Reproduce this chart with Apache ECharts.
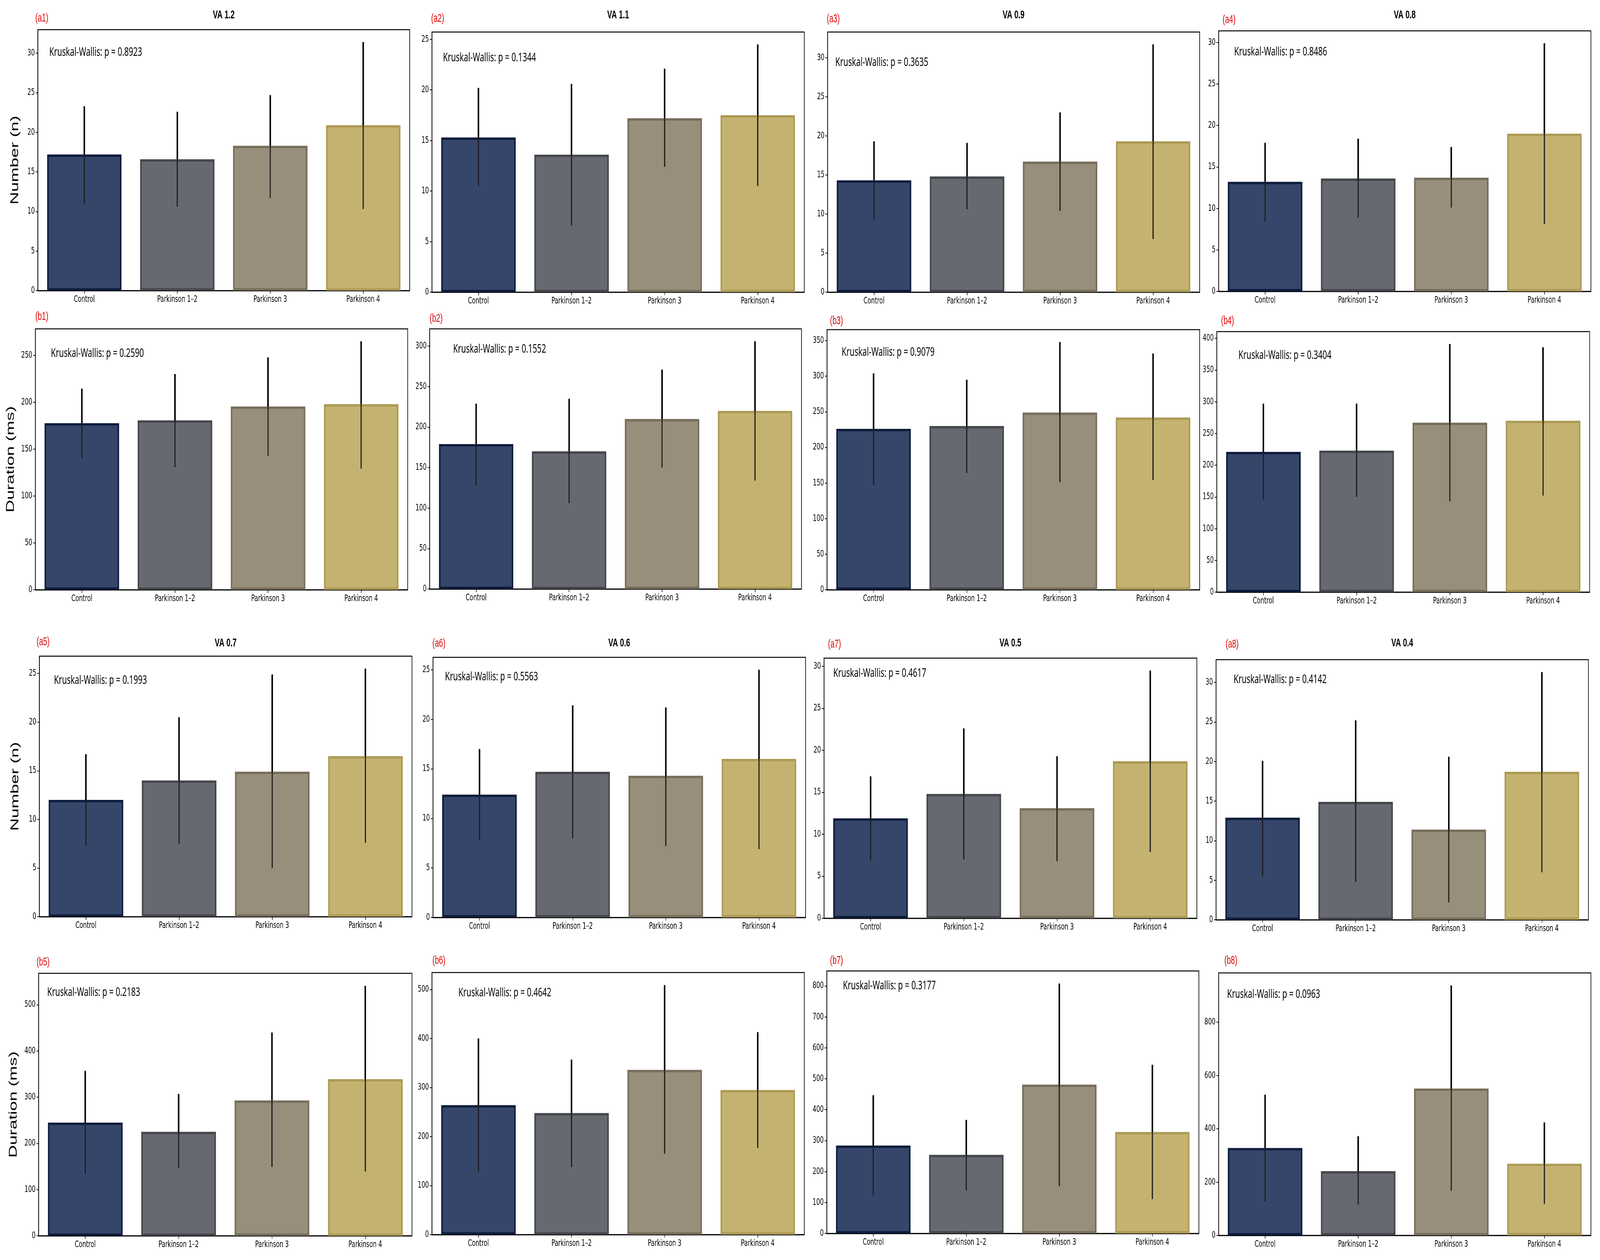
<!DOCTYPE html>
<html>
<head>
<meta charset="utf-8">
<script src="https://cdn.jsdelivr.net/npm/echarts@6.0.0/dist/echarts.min.js"></script>
<style>
  html, body { margin: 0; padding: 0; background: #fff; overflow: hidden; }
  #main { position: absolute; left: 0; top: 0; width: 6346px; height: 3226px; transform-origin: 0 0; }
</style>
</head>
<body>
<div id="main"></div>
<script>
// groups on the x axis
var categories = ['Control', 'Parkinson 1\u20132', 'Parkinson 3', 'Parkinson 4'];

var panelTags = ['a1', 'a2', 'a3', 'a4', 'b1', 'b2', 'b3', 'b4', 'a5', 'a6', 'a7', 'a8', 'b5', 'b6', 'b7', 'b8'];
var vaTitles = ['VA 1.2', 'VA 1.1', 'VA 0.9', 'VA 0.8', 'VA 0.7', 'VA 0.6', 'VA 0.5', 'VA 0.4'];
var pValues = ['0.8923', '0.1344', '0.3635', '0.8486', '0.2590', '0.1552', '0.9079', '0.3404',
               '0.1993', '0.5563', '0.4617', '0.4142', '0.2183', '0.4642', '0.3177', '0.0963'];

// bar heights (mean) per panel
var means = [
    [17.2, 16.6, 18.3, 20.9],
    [15.3, 13.6, 17.2, 17.5],
    [14.3, 14.8, 16.7, 19.3],
    [13.2, 13.6, 13.7, 19.0],
    [177.7, 180.7, 195.5, 198.0],
    [179, 170, 210, 220],
    [226, 230, 249, 242],
    [221, 223, 267, 270],
    [12.0, 14.0, 14.9, 16.5],
    [12.4, 14.7, 14.3, 16.0],
    [11.9, 14.8, 13.1, 18.7],
    [12.9, 14.9, 11.4, 18.7],
    [245, 225, 293, 339],
    [264, 248, 336, 295],
    [284, 254, 481, 328],
    [328, 241, 551, 269]
];
// error bar ends
var errLow = [
    [11.0, 10.6, 11.7, 10.3],
    [10.5, 6.6, 12.4, 10.5],
    [9.2, 10.6, 10.4, 6.8],
    [8.4, 8.9, 10.1, 8.1],
    [140.4, 130.8, 142.9, 129.3],
    [128, 106, 150, 134],
    [147, 164, 151, 154],
    [146, 150, 143, 152],
    [7.3, 7.5, 5.0, 7.6],
    [7.8, 8.0, 7.2, 6.9],
    [6.9, 7.0, 6.8, 7.9],
    [5.5, 4.8, 2.2, 6.0],
    [134, 147, 149, 139],
    [128, 138, 165, 177],
    [123, 139, 153, 111],
    [128, 115, 167, 118]
];
var errHigh = [
    [23.3, 22.6, 24.7, 31.4],
    [20.2, 20.6, 22.1, 24.5],
    [19.3, 19.1, 23.0, 31.7],
    [17.9, 18.4, 17.4, 29.9],
    [214.6, 230.1, 247.9, 265.1],
    [229, 235, 271, 306],
    [304, 295, 348, 332],
    [297, 297, 391, 386],
    [16.7, 20.5, 24.9, 25.5],
    [17.0, 21.4, 21.2, 25.0],
    [16.9, 22.6, 19.3, 29.5],
    [20.1, 25.2, 20.6, 31.3],
    [357, 307, 440, 541],
    [400, 357, 509, 413],
    [447, 367, 808, 545],
    [528, 372, 938, 424]
];
// y tick step per panel
var tickSteps = [5, 5, 5, 5, 50, 50, 50, 50, 5, 5, 5, 5, 100, 100, 100, 200];

// ---- layout, in reference pixels (6346 x 3226) ----
// [left, top, right, bottom] of each axes box
var boxes = [
    [150, 76, 1625, 744], [1713, 82, 3190, 748], [3282, 82, 4758, 748], [4833, 79, 6310, 746],
    [140, 842, 1617, 1510], [1704, 842, 3179, 1508], [3280, 844, 4758, 1510], [4826, 849, 6305, 1516],
    [156, 1680, 1634, 2347], [1717, 1683, 3195, 2349], [3268, 1685, 4747, 2351], [4823, 1689, 6300, 2355],
    [153, 2492, 1634, 3164], [1713, 2490, 3190, 3161], [3279, 2486, 4755, 3158], [4833, 2491, 6310, 3163]
];
// position of the red (a1) tags
var tagPos = [
    [140, 47], [1710, 48], [3279, 49], [4849, 51],
    [140, 811], [1704, 816], [3292, 822], [4843, 822],
    [145, 1644], [1715, 1648], [3284, 1650], [4861, 1650],
    [145, 2464], [1715, 2460], [3292, 2460], [4856, 2460]
];
// offset of the Kruskal-Wallis text from the box corner
var kwOffset = [
    [45, 58], [44, 66], [31, 78], [62, 54],
    [62, 63], [93, 52], [58, 58], [86, 61],
    [58, 62], [48, 50], [37, 39], [70, 51],
    [34, 49], [105, 52], [64, 38], [34, 55]
];
var titleY = [39, 1647];
var yLabelX = [60, 43, 61, 54];

var fillColors = ['#36466a', '#676970', '#978e7b', '#c4b270'];
var edgeColors = ['#0e1c3c', '#45474d', '#776d5b', '#ad9a55'];

// the window may be narrower than the reference: squeeze the whole drawing to fit
var el = document.getElementById('main');
el.style.transform = 'scale(' + (window.innerWidth / 6346) + ',' + (window.innerHeight / 3226) + ')';

var myChart = echarts.init(el);

function renderErr(params, api) {
    var lo = api.coord([api.value(0), api.value(1)]);
    var hi = api.coord([api.value(0), api.value(2)]);
    var mid = api.coord([api.value(0), api.value(3)]);
    return {
        type: 'group',
        children: [
            {type: 'line', shape: {x1: hi[0], y1: hi[1], x2: mid[0], y2: mid[1]},
             style: {stroke: '#000', lineWidth: 6}},
            {type: 'line', shape: {x1: mid[0], y1: mid[1], x2: lo[0], y2: lo[1]},
             style: {stroke: '#1e1e1e', lineWidth: 4.5}}
        ]
    };
}

var grids = [], xAxes = [], yAxes = [], series = [], graphics = [];

for (var i = 0; i < 16; i++) {
    var b = boxes[i];
    // matplotlib-like headroom: 5% above the highest whisker
    var yMax = Math.max.apply(null, errHigh[i]) * 1.05;
    grids.push({
        left: b[0], top: b[1], width: b[2] - b[0], height: b[3] - b[1],
        show: true, borderColor: '#000', borderWidth: 2.5, containLabel: false
    });
    xAxes.push({
        type: 'category', gridIndex: i, data: categories,
        axisLine: {show: true, lineStyle: {color: '#000', width: 2.5}},
        axisTick: {show: true, alignWithLabel: true, length: 8, lineStyle: {color: '#000', width: 2}},
        axisLabel: {color: '#000', fontSize: 23, fontFamily: 'DejaVu Sans', margin: 12},
        splitLine: {show: false}
    });
    yAxes.push({
        type: 'value', gridIndex: i, min: 0, max: yMax, interval: tickSteps[i],
        axisLine: {show: true, lineStyle: {color: '#000', width: 2.5}},
        axisTick: {show: true, length: 8, lineStyle: {color: '#000', width: 2}},
        axisLabel: {color: '#000', fontSize: 23, fontFamily: 'DejaVu Sans', margin: 12,
                    showMaxLabel: false},
        splitLine: {show: false}
    });

    var barData = [];
    var errData = [];
    for (var j = 0; j < 4; j++) {
        barData.push({
            value: means[i][j],
            itemStyle: {color: fillColors[j], borderColor: edgeColors[j], borderWidth: 6}
        });
        errData.push([j, errLow[i][j], errHigh[i][j], means[i][j]]);
    }
    series.push({
        type: 'bar', xAxisIndex: i, yAxisIndex: i, data: barData,
        barWidth: '80%', silent: true, z: 2
    });
    series.push({
        type: 'custom', xAxisIndex: i, yAxisIndex: i, data: errData,
        renderItem: renderErr, encode: {x: 0, y: [1, 2]},
        silent: true, z: 5
    });

    // red panel tag
    graphics.push({
        type: 'text', x: tagPos[i][0], y: tagPos[i][1],
        style: {text: '(' + panelTags[i] + ')', fill: '#dd0000', font: '29px "Liberation Sans"',
                textAlign: 'left', textVerticalAlign: 'middle'}
    });
    // Kruskal-Wallis annotation
    graphics.push({
        type: 'text', x: b[0] + kwOffset[i][0], y: b[1] + kwOffset[i][1],
        style: {text: 'Kruskal-Wallis: p = ' + pValues[i], fill: '#000', font: '31px "Noto Sans"',
                textAlign: 'left', textVerticalAlign: 'middle'}
    });
    var row = Math.floor(i / 4), col = i % 4;
    if (row === 0 || row === 2) {
        graphics.push({
            type: 'text', x: (b[0] + b[2]) / 2, y: titleY[row / 2],
            style: {text: vaTitles[row * 2 + col], fill: '#000', font: 'bold 29px "Liberation Sans"',
                    textAlign: 'center', textVerticalAlign: 'middle'}
        });
    }
    if (col === 0) {
        graphics.push({
            type: 'text', x: yLabelX[row], y: (b[1] + b[3]) / 2, rotation: Math.PI / 2,
            style: {text: (row % 2 === 0) ? 'Number (n)' : 'Duration (ms)', fill: '#000',
                    font: '45px "Liberation Sans"', textAlign: 'center', textVerticalAlign: 'middle'}
        });
    }
}

myChart.setOption({
    backgroundColor: '#fff',
    animation: false,
    grid: grids,
    xAxis: xAxes,
    yAxis: yAxes,
    series: series,
    graphic: {elements: graphics}
});
</script>
</body>
</html>
